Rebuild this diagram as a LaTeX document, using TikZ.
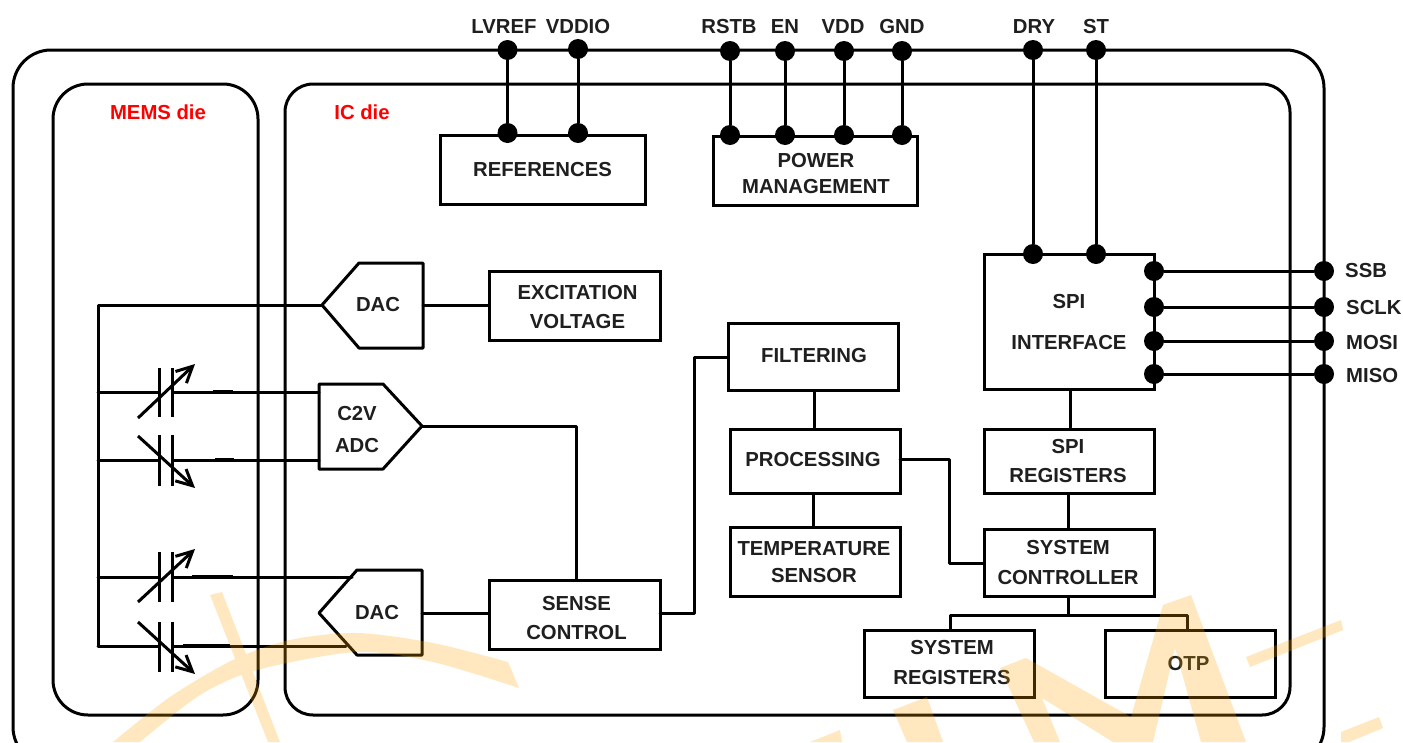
\documentclass[tikz,border=0pt]{standalone}
\usepackage{fontspec}
\setmainfont{Liberation Sans}
\usetikzlibrary{arrows.meta}
\definecolor{wmorange}{RGB}{255,165,0}
\tikzset{
  wire/.style={line width=3pt,black,line cap=round,line join=round},
  heavy/.style={line width=4.6pt,black},
  boxtext/.style={inner sep=0pt,align=center,font=\fontsize{20.3}{#1}\selectfont\bfseries,text=black!88},
  boxtext/.default=29,
  boxnode/.style={draw=black,line width=3pt,inner sep=0pt},
  die/.style={draw=black,line width=3pt,inner sep=0pt},
  dotnode/.style={circle,fill=black,inner sep=0pt,minimum size=20pt},
  pin/.style={font=\fontsize{20.3}{24}\selectfont\bfseries,inner sep=0pt,text=black!88},
  dielabel/.style={font=\fontsize{20.3}{24}\selectfont\bfseries,inner sep=0pt,text=red},
  plate/.style={line width=3pt,black},
  varrow/.style={line width=3pt,black,-{Straight Barb[length=16pt,width=16pt,line width=3pt]}},
  wm/.style={fill=wmorange},
}
\begin{document}
\begin{tikzpicture}[x=1pt,y=-1pt]
\useasboundingbox (0,0) rectangle (1403,742);
\fill[white] (0,0) rectangle (1403,742);
% dies
\node[die,rounded corners=38pt,minimum width=1311pt,minimum height=715pt] (outer) at (668.5,407.5) {};
\node[die,rounded corners=35pt,minimum width=205pt,minimum height=631pt] (mems) at (155.5,399.5) {};
\node[die,rounded corners=28pt,minimum width=1005pt,minimum height=631pt] (ic) at (787.5,399.5) {};
\node[dielabel] (memslabel) at (158,112) {MEMS die};
\node[dielabel] (iclabel) at (362,112) {IC die};
% blocks
\node[boxnode,minimum width=205pt,minimum height=69pt,label={[boxtext]center:REFERENCES}] (refs) at (542.5,169.5) {};
\node[boxnode,minimum width=204pt,minimum height=69pt,label={[boxtext=26,xshift=1pt,yshift=-3.5pt]center:POWER\\MANAGEMENT}] (power) at (815,170.5) {};
\node[boxnode,minimum width=171pt,minimum height=69pt,label={[boxtext=29,xshift=3pt,yshift=-1.5pt]center:EXCITATION\\VOLTAGE}] (excite) at (574.5,305.5) {};
\node[boxnode,minimum width=170pt,minimum height=67pt,label={[boxtext,xshift=1pt,yshift=1pt]center:FILTERING}] (filter) at (813,356.5) {};
\node[boxnode,minimum width=170pt,minimum height=64pt,label={[boxtext,xshift=-2pt,yshift=1.5pt]center:PROCESSING}] (proc) at (815,461) {};
\node[boxnode,minimum width=170pt,minimum height=69pt,label={[boxtext=27,xshift=-1pt,yshift=-0.5pt]center:TEMPERATURE\\SENSOR}] (temp) at (815,561.5) {};
\node[boxnode,minimum width=171pt,minimum height=69pt,label={[boxtext=29,xshift=2pt,yshift=-3.5pt]center:SENSE\\CONTROL}] (sense) at (574.5,614.5) {};
\node[boxnode,minimum width=170pt,minimum height=135pt,label={[boxtext=41,yshift=-0.5pt]center:SPI\\INTERFACE}] (spi) at (1069,321.5) {};
\node[boxnode,minimum width=170pt,minimum height=64pt,label={[boxtext=29,xshift=-1pt]center:SPI\\REGISTERS}] (spireg) at (1069,461) {};
\node[boxnode,minimum width=170pt,minimum height=67pt,label={[boxtext=30,xshift=-1pt]center:SYSTEM\\CONTROLLER}] (sysctl) at (1069,562.5) {};
\node[boxnode,minimum width=170pt,minimum height=67pt,label={[boxtext=30,xshift=3pt,yshift=1pt]center:SYSTEM\\REGISTERS}] (sysreg) at (949,663.5) {};
\node[boxnode,minimum width=170pt,minimum height=67pt,label={[boxtext,xshift=-1.5pt]center:OTP}] (otp) at (1190,663.5) {};
% converters
\coordinate (dacatip) at (322,305);
\draw[wire] (dacatip) -- (359,263) -- (423,263) -- (423,348) -- (359,348) -- cycle;
\node[pin] (daca) at (378,305) {DAC};
\coordinate (adctip) at (422,426);
\draw[wire] (319,384) -- (383,384) -- (adctip) -- (383,469) -- (319,469) -- cycle;
\node[boxtext=32] (adc) at (357,430) {C2V\\ADC};
\coordinate (dacbtip) at (319,613);
\draw[wire] (dacbtip) -- (357,570) -- (422,570) -- (422,655) -- (357,655) -- cycle;
\node[pin] (dacb) at (377,613) {DAC};
% bus and capacitors
\coordinate (busa) at (98,305);
\coordinate (busb) at (98,392);
\coordinate (busc) at (98,460);
\coordinate (busd) at (98,577);
\coordinate (buse) at (98,646);
\draw[wire] (dacatip) -- (busa) -- (buse);
\draw[wire] (busb) -- (159,392) (172.5,392) -- (319,392);
\draw[wire] (busc) -- (159,460) (172.5,460) -- (319,460);
\draw[wire] (busd) -- (159,577) (172.5,577) -- (352,577);
\draw[wire] (buse) -- (159,646) (172.5,646) -- (346,646);
\draw[heavy] (213,392) -- (233,392) (215,460) -- (234,460) (192,577) -- (233,577) (183,646) -- (230,646);
\foreach \ya/\yb in {368/417,435/486,552/602,622/672}{
  \draw[plate] (159,\ya) -- (159,\yb) (172.5,\ya) -- (172.5,\yb);
}
\draw[varrow] (138,418) -- (195,364);
\draw[varrow] (138,436) -- (195,488);
\draw[varrow] (138,602) -- (195,549);
\draw[varrow] (138,622) -- (195,674);
% internal connectors
\draw[wire] (423,305.5) -- (excite.west);
\draw[wire] (adctip) -- (576,426) -- (sense.north -| 576,0);
\draw[wire] (422,613.5) -- (489,613.5);
\draw[wire] (660,613) -- (694,613) -- (694,357) -- (728,357);
\draw[wire] (filter.south -| 814,0) -- (proc.north -| 814,0);
\draw[wire] (proc.south -| 813,0) -- (temp.north -| 813,0);
\draw[wire] (900,459) -- (949,459) -- (949,563) -- (984,563);
\draw[wire] (spi.south -| 1070,0) -- (spireg.north -| 1070,0);
\draw[wire] (spireg.south -| 1068,0) -- (sysctl.north -| 1068,0);
\draw[wire] (sysctl.south -| 1068,0) -- (1068,615);
\draw[wire] (sysreg.north -| 950,0) -- (950,615) -- (1187,615) -- (otp.north -| 1187,0);
% pins
\foreach \n/\xa/\ya/\xb/\yb in {lvref/507.5/50/507.5/133,vddio/578/49/578/133,rstb/730/51/730/135,en/785/51/785/135,vdd/844/51/844/135,gnd/902/51/902/135,dry/1033/50/1033/254,st/1096/50/1096/254}{
  \node[dotnode] (\n a) at (\xa,\ya) {};
  \node[dotnode] (\n b) at (\xb,\yb) {};
  \draw[wire] (\n a) -- (\n b);
}
\foreach \n/\ya/\yb in {ssb/271/271,sclk/307/307,mosi/341/341,miso/374/374}{
  \node[dotnode] (\n a) at (1154,\ya) {};
  \node[dotnode] (\n b) at (1324,\yb) {};
  \draw[wire] (\n a) -- (\n b);
}
\node[pin] (tlvref) at (504,27) {LVREF};
\node[pin] (tvddio) at (578,27) {VDDIO};
\node[pin] (trstb) at (729,27) {RSTB};
\node[pin] (ten) at (785,27) {EN};
\node[pin] (tvdd) at (843,27) {VDD};
\node[pin] (tgnd) at (902,27) {GND};
\node[pin] (tdry) at (1034,27) {DRY};
\node[pin] (tst) at (1096,27) {ST};
\node[pin,anchor=west] (tssb) at (1345,271) {SSB};
\node[pin,anchor=west] (tsclk) at (1346,308) {SCLK};
\node[pin,anchor=west] (tmosi) at (1346,343) {MOSI};
\node[pin,anchor=west] (tmiso) at (1346,376) {MISO};
% watermark
\begin{scope}[transparency group,opacity=.25]
\clip (0,0) rectangle (1403,742);
\fill[wm] (210,595) -- (222,592) -- (280,742) -- (268,742) -- cycle;
\fill[wm] plot[smooth] coordinates {(113,742) (170,697) (233,660) (290,640) (357,633) (433,643) (508,662)}
  -- (519,688) -- plot[smooth] coordinates {(519,688) (433,662) (357,652) (257,670) (200,695) (140,742)} -- cycle;
\fill[wm] (810,742) -- (840,730) -- (842,742) -- cycle;
\fill[wm] (893,710) -- (927,697) -- (943,742) -- (907,742) -- cycle;
\fill[wm] (1000,668) -- (1026,658) -- (1131,717) -- (1163,605) -- (1191,595) -- (1246,742) -- (1201,742) -- (1175,648) -- (1153,742) -- (1113,742) -- (1042,698) -- (1060,742) -- (1034,742) -- cycle;
\fill[wm] (1246,657) -- (1341,620) -- (1343,630) -- (1250,667) -- cycle;
\fill[wm] (1341,732) -- (1379,717) -- (1383,728) -- (1349,742) -- (1341,742) -- cycle;
\end{scope}
\end{tikzpicture}
\end{document}
